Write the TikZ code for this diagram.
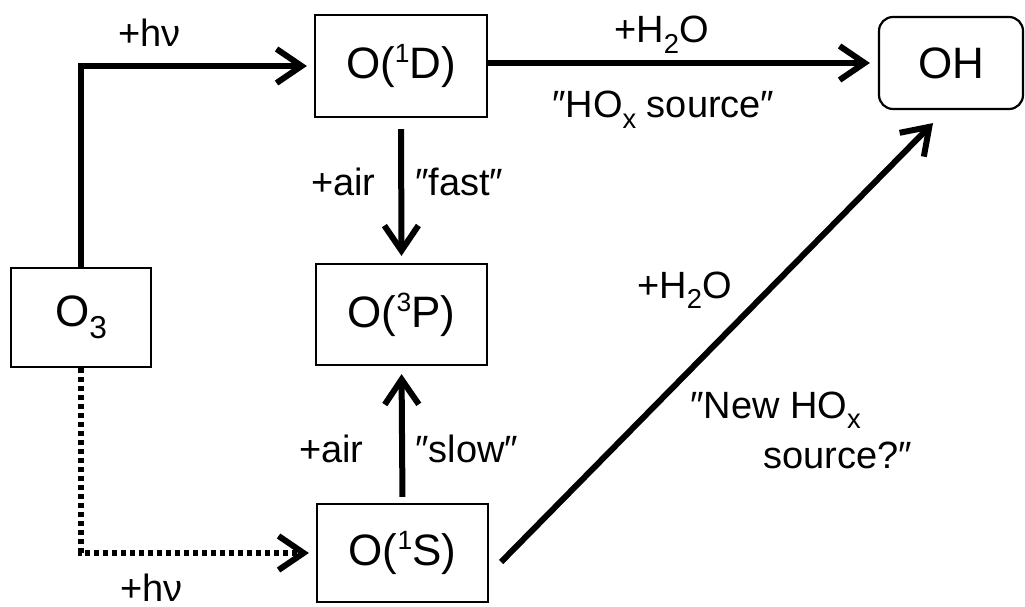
\documentclass[tikz,border=0pt]{standalone}
\usepackage{fontspec}
\setmainfont{Liberation Sans}
\usetikzlibrary{arrows.meta,calc}
\newcommand\mysub[1]{\raisebox{-0.28em}{\scalebox{0.72}{#1}}}
\newcommand\mysup[1]{\raisebox{0.36em}{\scalebox{0.6}{#1}}}
\begin{document}
\begin{tikzpicture}[x=1pt,y=-1pt,
  box/.style={draw,line width=2.2pt,inner sep=0pt,font=\fontsize{44}{48}\selectfont},
  lbl/.style={inner sep=0pt,anchor=base west,font=\fontsize{38}{40}\selectfont},
  flow/.style={line width=6pt,-{Straight Barb[length=25pt,width=34pt]}},
  dotflow/.style={flow,dash pattern=on 5pt off 4pt}
]
\useasboundingbox (0,0) rectangle (1025,607);
% boxes
\node[box,minimum width=140pt,minimum height=99pt] (o3) at (81,317.5) {O\mysub{3}};
\node[box,minimum width=172pt,minimum height=102pt] (o1d) at (401,66) {O(\mysup{1}D)};
\node[box,minimum width=171pt,minimum height=101pt] (o3p) at (401.5,314.5) {O(\mysup{3}P)};
\node[box,minimum width=171pt,minimum height=98pt] (o1s) at (402.5,553) {O(\mysup{1}S)};
\node[box,rounded corners=14pt,minimum width=144pt,minimum height=92pt] (oh) at (951,63) {OH};
% connectors
\draw[flow,shorten >=7pt] (o3.north) |- (o1d.west);
\draw[flow,shorten >=8pt] (o1d.east |- oh.west) -- (oh.west);
\draw[flow,shorten <=11pt,shorten >=7pt] (o1d.south) -- (o3p.north);
\draw[flow,shorten <=6pt,shorten >=8pt] (o1s.north) -- (o3p.south);
\draw[flow] ($(o1s.east)+(12,9)$) -- ($(oh.south)+(-18,13)$);
\draw[dotflow,shorten >=7pt] (o3.south) |- (o1s.west);
% labels
\node[lbl] (hv1) at (118,47) {+hν};
\node[lbl] (air1) at (311,195) {+air};
\node[lbl] (fast) at (415,195) {″fast″};
\node[lbl] (air2) at (299,462) {+air};
\node[lbl] (slow) at (415,462) {″slow″};
\node[lbl] (h2o1) at (614,43) {+H\mysub{2}O};
\node[lbl] (src1) at (552,118) {″HO\mysub{x} source″};
\node[lbl] (h2o2) at (637,298) {+H\mysub{2}O};
\node[lbl] (new1) at (690,418) {″New HO\mysub{x}};
\node[lbl] (new2) at (763,468) {source?″};
\node[lbl] (hv2) at (120,601) {+hν};
\end{tikzpicture}
\end{document}
